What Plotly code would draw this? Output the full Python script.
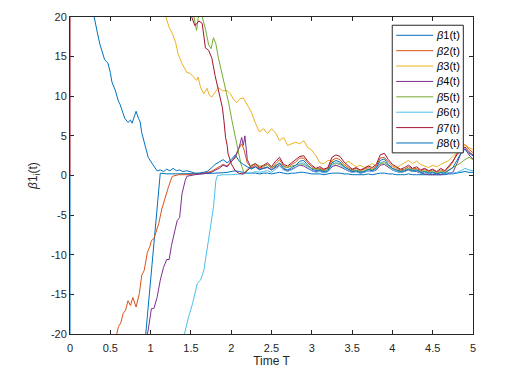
import plotly.graph_objects as go

# shared time grid for the converged part (t >= 2.25)
t_tail = [2.25, 2.30, 2.35, 2.40, 2.45, 2.50, 2.55, 2.60, 2.65, 2.70, 2.75, 2.80, 2.85, 2.90,
          2.95, 3.00, 3.05, 3.10, 3.15, 3.20, 3.25, 3.30, 3.35, 3.40, 3.45, 3.50, 3.55, 3.60,
          3.65, 3.70, 3.75, 3.80, 3.85, 3.90, 3.95, 4.00, 4.05, 4.10, 4.15, 4.20, 4.25, 4.30,
          4.35, 4.40, 4.45, 4.50, 4.55, 4.60, 4.65, 4.70, 4.75, 4.80, 4.85, 4.90, 4.95, 5.00]

# beta1
t1 = [0, 0, None, 0.90, 1.12, 1.20, 1.30, 1.40, 1.50, 1.60, 1.70, 1.80, 1.85, 1.90, 1.95, 2.00,
      2.05, 2.10, 2.15, 2.20]
b1 = [0, -40, None, -24.5, 0.3, 0.2, 0.2, 0.2, 0.2, 0.2, 0.25, 0.3, 0.3, 0.35, 0.4, 0.5,
      0.6, 0.5, 0.4, 0.3]
b1_tail = [0.3, 0.3, 0.2, 0.3, 0.3, 0.2, 0.3, 0.4, 0.3, 0.2, 0.3, 0.3, 0.4, 0.4, 0.3, 0.2,
           0.2, 0.2, 0.1, 0.2, 0.3, 0.3, 0.3, 0.2, 0.2, 0.1, 0.1, 0.1, 0.1, 0.2, 0.1, 0.2,
           0.3, 0.3, 0.2, 0.2, 0.1, 0.1, 0.1, 0.2, 0.1, 0.1, 0.1, 0.1, 0.1, 0.1, 0.1, 0.1,
           0.1, 0.2, 0.2, 0.3, 0.4, 0.5, 0.4, 0.4]

# beta2
t2 = [0.55, 0.58, 0.60, 0.63, 0.66, 0.69, 0.72, 0.75, 0.78, 0.82, 0.86, 0.89, 0.92, 0.96,
      0.99, 1.01, 1.04, 1.07, 1.10, 1.14, 1.18, 1.22, 1.25, 1.27, 1.35, 1.45, 1.55, 1.65,
      1.75, 1.80, 1.85, 1.90, 1.95, 2.00, 2.05, 2.10, 2.13, 2.16, 2.20]
b2 = [-23, -20, -19.1, -18.6, -17.4, -17.0, -15.8, -16.4, -15.4, -16.6, -14.9, -12.6, -12.0,
      -9.7, -9.0, -8.2, -8.0, -7.0, -6.1, -4.2, -2.7, -1.5, -0.6, -0.1, 0.1, 0.1, 0.2, 0.3,
      0.5, 0.8, 1.0, 1.4, 1.2, 1.8, 2.2, 3.5, 4.0, 3.2, 1.6]
b2_tail = [1.0, 1.3, 0.9, 1.1, 1.4, 0.9, 1.5, 2.0, 1.2, 1.0, 1.4, 1.7, 2.2, 2.2, 1.6, 1.1,
           0.8, 0.9, 0.7, 0.9, 1.9, 2.2, 2.0, 1.4, 1.0, 0.7, 0.9, 0.6, 0.8, 1.0, 0.8, 1.2,
           2.2, 2.3, 1.7, 1.2, 0.9, 0.7, 0.8, 1.1, 0.8, 0.9, 0.6, 0.8, 0.5, 0.7, 0.4, 0.7,
           0.5, 1.0, 1.7, 2.8, 3.6, 3.9, 3.3, 2.9]

# beta3
t3 = [1.17, 1.19, 1.23, 1.27, 1.31, 1.34, 1.39, 1.45, 1.49, 1.53, 1.57, 1.59, 1.62, 1.66,
      1.70, 1.73, 1.76, 1.80, 1.84, 1.89, 1.95, 1.99, 2.03, 2.07, 2.11, 2.15, 2.19]
b3 = [21, 20, 18.7, 17.9, 16.8, 15.4, 14.1, 13.0, 12.9, 12.4, 12.0, 12.4, 11.1, 10.3, 11.0,
      10.1, 9.9, 10.5, 11.1, 10.7, 10.7, 10.3, 9.6, 9.2, 9.7, 9.8, 9.1]
b3_tail = [8.0, 6.6, 5.5, 5.9, 5.3, 5.9, 5.4, 4.4, 4.8, 3.8, 4.0, 4.2, 4.0, 4.4, 3.5, 3.2,
           2.5, 1.6, 1.5, 1.9, 1.9, 1.2, 1.5, 1.3, 1.8, 1.4, 1.1, 1.3, 1.0, 1.2, 1.5, 1.2,
           1.4, 1.8, 1.3, 1.1, 1.0, 1.3, 1.6, 1.9, 1.5, 1.8, 1.4, 1.2, 1.0, 1.3, 1.1, 1.4,
           1.6, 1.9, 2.4, 2.8, 3.4, 3.9, 3.5, 3.3]

# beta4
t4 = [0.94, 0.97, 1.01, 1.04, 1.08, 1.12, 1.16, 1.20, 1.23, 1.26, 1.30, 1.33, 1.36, 1.39,
      1.43, 1.45, 1.55, 1.65, 1.75, 1.80, 1.85, 1.90, 1.95, 2.00, 2.05, 2.10, 2.13, 2.15,
      2.17, 2.20]
b4 = [-21, -19.5, -16.8, -16.8, -15.4, -13.2, -11.6, -10.6, -10.6, -8.8, -7.0, -5.7, -5.3,
      -2.3, -0.6, -0.1, 0.1, 0.2, 0.4, 0.6, 0.9, 1.3, 1.1, 1.7, 2.4, 3.6, 4.8, 3.8, 5.0, 2.0]
b4_tail = [0.9, 1.1, 0.8, 0.9, 1.0, 0.7, 1.0, 1.3, 0.8, 0.6, 0.8, 1.0, 1.3, 1.2, 0.9, 0.6,
           0.5, 0.6, 0.4, 0.5, 1.1, 1.3, 1.1, 0.8, 0.6, 0.4, 0.5, 0.3, 0.4, 0.6, 0.5, 0.7,
           1.3, 1.4, 1.0, 0.7, 0.5, 0.4, 0.5, 0.7, 0.5, 0.5, 0.3, 0.2, 0.1, 0.1, 0.1, 0.1,
           0.2, 0.3, 0.4, 1.5, 2.8, 3.4, 2.6, 2.1]

# beta5
t5 = [1.52, 1.55, 1.57, 1.59, 1.62, 1.64, 1.68, 1.72, 1.75, 1.78, 1.81, 1.84, 1.88, 1.93,
      1.97, 2.01, 2.05, 2.09, 2.12, 2.14, 2.16, 2.20]
b5 = [21, 19.5, 18.3, 19.8, 21, 20.0, 18.5, 16.5, 16.0, 17.4, 16.6, 14.9, 13.2, 11.1, 9.1,
      6.9, 4.8, 2.8, 1.5, 0.9, 0.25, 0.8]
b5_tail = [1.3, 1.5, 1.2, 1.2, 1.4, 1.0, 1.3, 1.5, 1.1, 1.0, 1.2, 1.3, 1.5, 1.4, 1.2, 0.9,
           0.8, 0.8, 0.6, 0.8, 1.4, 1.6, 1.5, 1.1, 0.8, 0.6, 0.7, 0.5, 0.6, 0.8, 0.7, 0.9,
           1.5, 1.6, 1.2, 0.9, 0.7, 0.6, 0.7, 0.9, 0.7, 0.7, 0.5, 0.6, 0.4, 0.5, 0.3, 0.5,
           0.4, 0.7, 0.9, 1.2, 1.6, 2.0, 2.3, 2.0]

# beta6
t6 = [1.40, 1.42, 1.47, 1.52, 1.58, 1.62, 1.66, 1.70, 1.74, 1.78, 1.81, 1.83, 1.90, 2.00,
      2.10, 2.20]
b6 = [-22, -20, -17.9, -16.2, -13.6, -13.2, -12.0, -9.1, -6.7, -4.0, -0.6, 0.0, 0.1, 0.1,
      0.2, 0.3]
b6_tail = [0.3, 0.5, 0.4, 0.5, 0.6, 0.4, 0.8, 1.2, 0.7, 0.5, 0.7, 1.0, 1.5, 1.6, 1.0, 0.6,
           0.4, 0.5, 0.3, 0.5, 1.3, 1.6, 1.4, 0.9, 0.6, 0.4, 0.5, 0.3, 0.4, 0.6, 0.5, 0.8,
           1.6, 1.8, 1.2, 0.7, 0.5, 0.4, 0.5, 0.7, 0.5, 0.6, 0.3, 0.4, 0.2, 0.3, 0.2, 0.3,
           0.2, 0.4, 0.3, 0.4, 0.6, 0.9, 0.7, 0.6]

# beta7
t7 = [0, 0, None, 1.48, 1.51, 1.55, 1.60, 1.64, 1.68, 1.72, 1.76, 1.80, 1.84, 1.89, 1.91,
      1.93, 1.95, 1.96, 2.00, 2.05, 2.10, 2.15, 2.20]
b7 = [40, 0, None, 22, 20, 18.9, 19.5, 19.2, 16.1, 15.8, 14.8, 12.6, 10.7, 8.6, 6.9, 4.8,
      3.8, 2.8, 1.5, 0.6, 0.25, 0.2, 0.6]
b7_tail = [1.2, 1.5, 1.0, 1.3, 1.6, 1.1, 1.8, 2.3, 1.4, 1.2, 1.6, 1.9, 2.4, 2.5, 1.8, 1.3,
           0.9, 1.1, 0.8, 1.0, 2.3, 2.6, 2.4, 1.7, 1.2, 0.8, 1.0, 0.7, 0.9, 1.2, 1.0, 1.4,
           2.6, 2.8, 2.0, 1.4, 1.1, 0.8, 1.0, 1.3, 0.9, 1.1, 0.7, 0.9, 0.6, 0.8, 0.5, 0.9,
           0.6, 1.2, 1.8, 2.6, 3.2, 3.6, 3.0, 2.6]

# beta8
t8 = [0.28, 0.30, 0.34, 0.37, 0.40, 0.43, 0.47, 0.50, 0.52, 0.56, 0.60, 0.62, 0.66, 0.68,
      0.72, 0.75, 0.77, 0.80, 0.82, 0.85, 0.87, 0.89, 0.93, 0.97, 1.00, 1.03, 1.06, 1.08,
      1.12, 1.16, 1.20, 1.24, 1.28, 1.32, 1.36, 1.40, 1.45, 1.50, 1.55, 1.60, 1.65, 1.70,
      1.75, 1.80, 1.85, 1.90, 1.95, 2.00, 2.05, 2.10, 2.15, 2.20]
b8 = [21.0, 19.9, 18.0, 16.6, 15.6, 14.6, 14.2, 13.0, 11.8, 10.8, 9.4, 9.0, 7.8, 7.2, 6.7,
      7.0, 6.6, 7.4, 8.1, 7.2, 6.8, 5.4, 4.0, 2.3, 1.8, 1.3, 0.9, 0.6, 0.7, 0.5, 0.8, 0.6,
      0.9, 0.6, 0.7, 0.5, 0.6, 0.4, 0.3, 0.3, 0.4, 0.5, 0.9, 1.4, 1.7, 2.0, 1.6, 2.0, 2.6,
      1.8, 1.4, 1.1]
b8_tail = [0.8, 1.1, 0.7, 0.9, 1.1, 0.7, 1.2, 1.6, 0.9, 0.7, 1.0, 1.3, 1.8, 1.9, 1.3, 0.8,
           0.6, 0.7, 0.5, 0.6, 1.6, 1.9, 1.7, 1.1, 0.8, 0.5, 0.6, 0.4, 0.5, 0.8, 0.6, 1.0,
           1.9, 2.1, 1.4, 0.9, 0.7, 0.5, 0.6, 0.8, 0.6, 0.7, 0.4, 0.5, 0.3, 0.4, 0.2, 0.4,
           0.3, 0.6, 1.0, 1.9, 2.8, 3.3, 2.8, 2.5]

names = ["<i>β</i>1(t)", "<i>β</i>2(t)", "<i>β</i>3(t)", "<i>β</i>4(t)",
         "<i>β</i>5(t)", "<i>β</i>6(t)", "<i>β</i>7(t)", "<i>β</i>8(t)"]
colors = ["#0072BD", "#D95319", "#EDB120", "#7E2F8E", "#77AC30", "#4DBEEE", "#A2142F", "#0072BD"]

y_ticks = [-20, -15, -10, -5, 0, 5, 10, 15, 20]
y_ticklabels = ["-20", "-15", "-10", "-5", "0", "5", "10", "15", "20"]

series = [(t1, b1, b1_tail), (t2, b2, b2_tail), (t3, b3, b3_tail), (t4, b4, b4_tail),
          (t5, b5, b5_tail), (t6, b6, b6_tail), (t7, b7, b7_tail), (t8, b8, b8_tail)]

FONT = "Liberation Sans, Arial, Helvetica"
INK = "#262626"

fig = go.Figure()
for (th, vh, vt), nm, col in zip(series, names, colors):
    fig.add_trace(go.Scatter(x=th + t_tail, y=vh + vt, mode="lines", name=nm,
                             showlegend=False, line=dict(color=col, width=1)))

axis_style = dict(showline=True, linecolor=INK, linewidth=1, mirror="ticks",
                  ticks="inside", ticklen=4, tickcolor=INK, showgrid=False,
                  zeroline=False, layer="below traces", automargin=False,
                  tickfont=dict(family=FONT, size=11, color=INK))

fig.update_xaxes(range=[0, 5], dtick=0.5, ticklabelstandoff=4,
                 title=dict(text="Time T", standoff=2, font=dict(family=FONT, size=12, color=INK)),
                 **axis_style)
fig.update_yaxes(range=[-20, 20], tickvals=y_ticks, ticktext=y_ticklabels,
                 title=dict(text="<i>β</i>1<sub>i</sub>(t)", standoff=10,
                            font=dict(family=FONT, size=12, color=INK)),
                 **axis_style)

# boxed legend in the upper right corner (compact, MATLAB-like spacing)
lx0, lx1, ly0, ly1 = 0.7996, 0.976, 0.5714, 0.974
fig.add_shape(type="rect", xref="paper", yref="paper", x0=lx0, x1=lx1, y0=ly0, y1=ly1,
              line=dict(color=INK, width=1), fillcolor="white", layer="above")
for i, (nm, col) in enumerate(zip(names, colors)):
    yy = 0.9423 - 0.04853 * i
    fig.add_shape(type="line", xref="paper", yref="paper", x0=0.8095, x1=0.9014, y0=yy, y1=yy,
                  line=dict(color=col, width=1), layer="above")
    fig.add_annotation(xref="paper", yref="paper", x=0.9039, y=yy, xanchor="left",
                       yanchor="middle", text=nm, showarrow=False,
                       font=dict(family=FONT, size=11, color="black"))

fig.update_layout(
    width=512, height=378,
    margin=dict(l=62, r=47, t=9, b=52),
    paper_bgcolor="white", plot_bgcolor="white",
    font=dict(family=FONT, size=11, color=INK),
    showlegend=False,
)

fig.write_html("out.html")
